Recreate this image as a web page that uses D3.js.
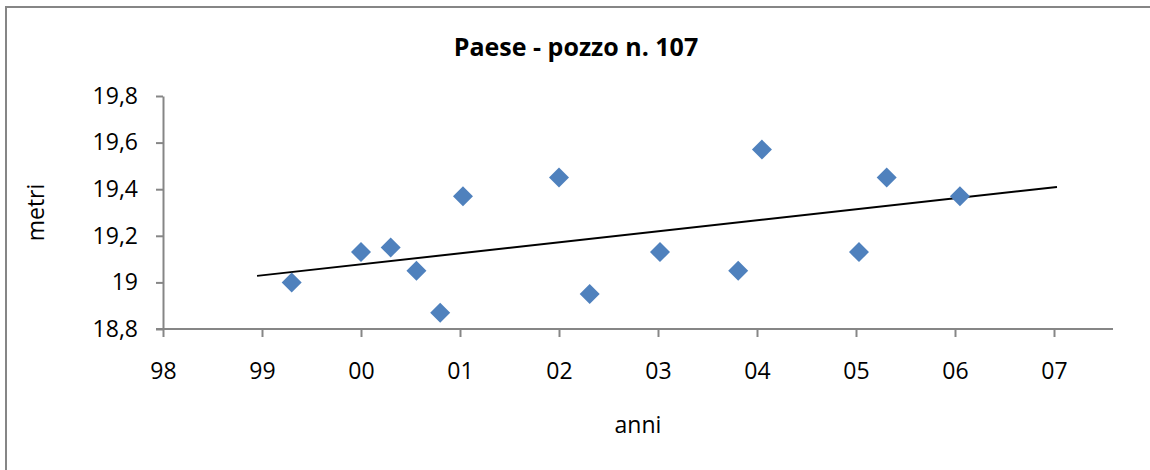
<!DOCTYPE html>
<html>
<head>
<meta charset="utf-8">
<script src="https://cdn.jsdelivr.net/npm/d3@7"></script>
<style>
  body { margin: 0; background: #fff; }
  text { font-family: "Open Sans", sans-serif; fill: #000; }
</style>
</head>
<body>
<div id="chart"></div>
<script>
// data (anni = year, 98 = 1998, 100 = 2000 ...)
var anni  = [99.30, 100.00, 100.30, 100.56, 100.80, 101.03, 102.00, 102.31, 103.02, 103.81, 104.05, 105.03, 105.31, 106.05];
var metri = [19.00, 19.13, 19.15, 19.05, 18.87, 19.37, 19.45, 18.95, 19.13, 19.05, 19.57, 19.13, 19.45, 19.37];

var xTickValues = [98, 99, 100, 101, 102, 103, 104, 105, 106, 107];
var xTickLabels = ["98", "99", "00", "01", "02", "03", "04", "05", "06", "07"];
var yTickValues = [18.8, 19.0, 19.2, 19.4, 19.6, 19.8];
var trendRange = [98.95, 107.03];

var W = 1150, H = 470;
var margin = { top: 96, right: 37, bottom: 141, left: 163 };
var width = W - margin.left - margin.right;
var height = H - margin.top - margin.bottom;

var svg = d3.select("#chart")
  .append("svg")
    .attr("width", W)
    .attr("height", H);

// chart area border
svg.append("rect")
  .attr("x", 6).attr("y", 7)
  .attr("width", W + 20).attr("height", H + 20)
  .attr("fill", "none")
  .attr("stroke", "#868686")
  .attr("stroke-width", 2);

var g = svg.append("g")
  .attr("transform", "translate(" + margin.left + "," + margin.top + ")");

var x = d3.scaleLinear()
  .domain([98, 98 + width / 99])
  .range([0, width]);
var y = d3.scaleLinear()
  .domain([18.8, 19.8])
  .range([height, 0]);

var it = d3.formatLocale({ decimal: ",", thousands: ".", grouping: [3], currency: ["", "€"] });
var fmt = it.format(".1~f");

// X axis
var xAxis = g.append("g")
  .attr("transform", "translate(0," + height + ")")
  .call(d3.axisBottom(x)
    .tickValues(xTickValues)
    .tickFormat(function(d, i) { return xTickLabels[i]; })
    .tickSizeInner(8).tickSizeOuter(0)
    .tickPadding(26));

// Y axis
var yAxis = g.append("g")
  .call(d3.axisLeft(y)
    .tickValues(yTickValues)
    .tickFormat(fmt)
    .tickSizeInner(7).tickSizeOuter(0)
    .tickPadding(18));

[xAxis, yAxis].forEach(function(a) {
  a.select(".domain").attr("stroke", "#868686").attr("stroke-width", 2);
  a.selectAll(".tick line").attr("stroke", "#868686").attr("stroke-width", 2);
  a.selectAll(".tick text")
    .attr("fill", "#000")
    .style("font-family", "'Open Sans', sans-serif")
    .style("font-size", "23px");
});
// y axis line stops at the x axis
xAxis.select(".domain").attr("d", "M-7,0H" + width);

// trend line (least squares)
var mx = d3.mean(anni), my = d3.mean(metri);
var sxy = d3.sum(anni, function(d, i) { return (d - mx) * (metri[i] - my); });
var sxx = d3.sum(anni, function(d) { return (d - mx) * (d - mx); });
var slope = sxy / sxx, icpt = my - slope * mx;

g.append("line")
  .attr("x1", x(trendRange[0])).attr("y1", y(icpt + slope * trendRange[0]))
  .attr("x2", x(trendRange[1])).attr("y2", y(icpt + slope * trendRange[1]))
  .attr("stroke", "#000")
  .attr("stroke-width", 2);

// points
g.selectAll(".pt")
  .data(anni)
  .enter()
  .append("path")
    .attr("class", "pt")
    .attr("d", d3.symbol().type(d3.symbolSquare).size(200))
    .attr("transform", function(d, i) { return "translate(" + x(d) + "," + y(metri[i]) + ") rotate(45)"; })
    .attr("fill", "#4F81BD");

// title
svg.append("text")
  .attr("x", 576).attr("y", 56)
  .attr("text-anchor", "middle")
  .style("font-size", "25px")
  .style("font-weight", "bold")
  .text("Paese - pozzo n. 107");

// axis titles
svg.append("text")
  .attr("x", margin.left + width / 2).attr("y", 433)
  .attr("text-anchor", "middle")
  .style("font-size", "23px")
  .text("anni");

svg.append("text")
  .attr("transform", "translate(44," + (margin.top + height / 2) + ") rotate(-90)")
  .attr("text-anchor", "middle")
  .style("font-size", "23px")
  .text("metri");
</script>
</body>
</html>
